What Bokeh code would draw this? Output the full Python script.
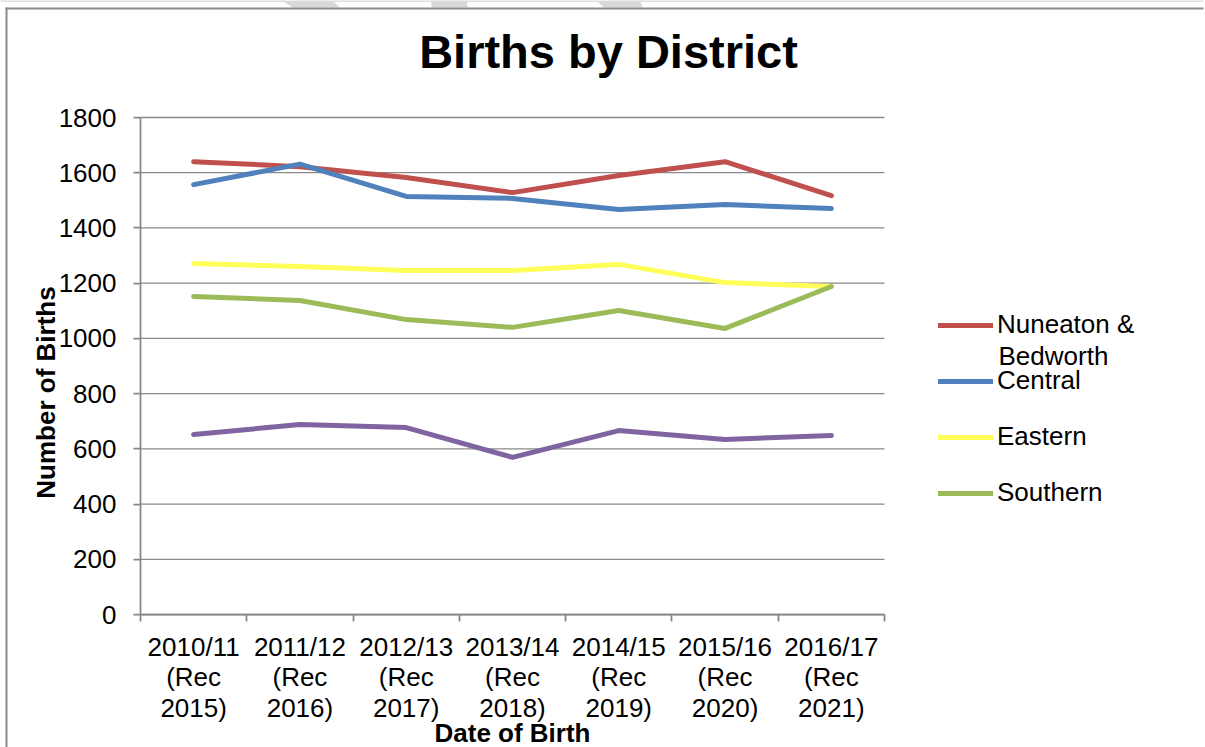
from math import pi

from bokeh.plotting import figure
from bokeh.models import Range1d, FixedTicker, Legend, LegendItem, Label
from bokeh.embed import file_html
from bokeh.resources import INLINE

# ---- data -------------------------------------------------------------
periods = ["2010/11", "2011/12", "2012/13", "2013/14", "2014/15", "2015/16", "2016/17"]
recorded = ["2015", "2016", "2017", "2018", "2019", "2020", "2021"]

nuneaton_bedworth = [1640, 1622, 1583, 1528, 1590, 1640, 1517]
central = [1557, 1631, 1514, 1507, 1467, 1485, 1470]
eastern = [1271, 1260, 1246, 1246, 1268, 1202, 1188]
southern = [1152, 1137, 1068, 1040, 1101, 1036, 1188]
northern = [652, 688, 677, 569, 666, 634, 648]

y_ticks = [0, 200, 400, 600, 800, 1000, 1200, 1400, 1600, 1800]

TITLE = "Births by District"
Y_TITLE = "Number of Births"
X_TITLE = "Date of Birth"

# ---- page geometry ----------------------------------------------------
# The plotting frame fills the whole canvas; the chart's plot area
# (between the axes) sits inside it at these pixel edges.
W, H = 1205, 747
AREA_L, AREA_R, AREA_T, AREA_B = 140, 884, 117, 614
FONT = "Liberation Sans"
AXIS_GREY = "#868686"
GRID_GREY = "#8a8a8a"

n = len(periods)
x_pos = [i + 0.5 for i in range(n)]
y_lo, y_hi = y_ticks[0], y_ticks[-1]

px_per_x = (AREA_R - AREA_L) / n
px_per_y = (AREA_B - AREA_T) / (y_hi - y_lo)


def dx(px):
    """page x pixel -> data x"""
    return (px - AREA_L) / px_per_x


def dy(py):
    """page y pixel -> data y"""
    return y_lo + (AREA_B - py) / px_per_y


p = figure(width=W, height=H, title=None,
           x_range=Range1d(dx(0), dx(W)), y_range=Range1d(dy(H), dy(0)),
           output_backend="svg", toolbar_location=None,
           min_border=0, min_border_left=0, min_border_right=0,
           min_border_top=0, min_border_bottom=0)
p.outline_line_color = None
p.background_fill_color = "white"
p.border_fill_color = "white"

# ---- page decoration: faint rule, watermark fragments, chart border ---
p.quad(left=[dx(0)], right=[dx(W - 2)], top=[dy(0)], bottom=[dy(1)],
       fill_color="#bcbcbc", line_color=None, level="underlay")
p.patches(xs=[[dx(283), dx(333), dx(339), dx(292)],
              [dx(431), dx(467), dx(467), dx(431)],
              [dx(597), dx(640), dx(642), dx(603)]],
          ys=[[dy(1), dy(1), dy(7), dy(7)]] * 3,
          fill_color="#d9d9d9", line_color=None, level="underlay")
p.quad(left=[dx(5), dx(5)], right=[dx(W - 2), dx(7)],
       top=[dy(7), dy(7)], bottom=[dy(9), dy(H)],
       fill_color="#8a8a8a", line_color=None, level="underlay")

# ---- axes, pinned to the plot-area edges ------------------------------
xa = p.xaxis[0]
xa.fixed_location = y_lo
xa.bounds = (0, n)
xa.ticker = FixedTicker(ticks=x_pos, minor_ticks=list(range(n + 1)))
xa.major_label_overrides = {x: f"{per}\n(Rec\n{rec})"
                            for x, per, rec in zip(x_pos, periods, recorded)}
xa.axis_line_color = AXIS_GREY
xa.axis_line_width = 1.75
xa.major_tick_line_color = None
xa.major_tick_out = 7
xa.major_tick_in = 0
xa.minor_tick_line_color = AXIS_GREY
xa.minor_tick_line_width = 1.75
xa.minor_tick_out = 7
xa.minor_tick_in = 0
xa.major_label_text_font = FONT
xa.major_label_text_font_size = "26px"
xa.major_label_text_color = "black"
xa.major_label_text_line_height = 1.02
xa.major_label_standoff = 10

ya = p.yaxis[0]
ya.fixed_location = 0
ya.bounds = (y_lo, y_hi)
ya.ticker = FixedTicker(ticks=y_ticks, minor_ticks=[])
ya.axis_line_color = AXIS_GREY
ya.axis_line_width = 1.75
ya.major_tick_line_color = AXIS_GREY
ya.major_tick_line_width = 1.75
ya.major_tick_out = 7
ya.major_tick_in = 0
ya.minor_tick_line_color = None
ya.major_label_text_font = FONT
ya.major_label_text_font_size = "26px"
ya.major_label_text_color = "black"
ya.major_label_standoff = 17

# horizontal gridlines only across the plot area
p.xgrid.visible = False
p.ygrid.visible = False
p.segment(x0=[0] * len(y_ticks), x1=[n] * len(y_ticks), y0=y_ticks, y1=y_ticks,
          line_color=GRID_GREY, line_width=1.3, level="underlay")

# ---- series -----------------------------------------------------------
style = dict(line_width=5, line_cap="round", line_join="round")
r_nb = p.line(x_pos, nuneaton_bedworth, line_color="#C0504D", **style)
r_ce = p.line(x_pos, central, line_color="#4F81BD", **style)
r_ea = p.line(x_pos, eastern, line_color="#FFFF5A", **style)
r_so = p.line(x_pos, southern, line_color="#9BBB59", **style)
r_no = p.line(x_pos, northern, line_color="#8064A2", **style)

legend = Legend(items=[
    LegendItem(label="Nuneaton &", renderers=[r_nb]),
    LegendItem(label="Central", renderers=[r_ce]),
    LegendItem(label="Eastern", renderers=[r_ea]),
    LegendItem(label="Southern", renderers=[r_so]),
], location=(938, H - 508.5), orientation="vertical",
    glyph_width=55, glyph_height=32, label_height=32, label_standoff=4,
    spacing=24, padding=0, margin=0, border_line_color=None,
    background_fill_alpha=0, label_text_font=FONT,
    label_text_font_size="26px", label_text_color="black")
p.add_layout(legend)

# ---- texts ------------------------------------------------------------
# (alphabetic-baseline labels render about 0.36 em below their anchor,
#  so anchors are raised by that amount)
def lift(size):
    return 0.36 * size


p.add_layout(Label(x=dx(998), y=dy(365 - lift(26)), text="Bedworth",
                   text_font=FONT, text_font_size="26px", text_color="black",
                   text_align="left", text_baseline="alphabetic"))

p.add_layout(Label(x=dx(608), y=dy(68 - lift(47)), text=TITLE, text_font=FONT,
                   text_font_size="47px", text_font_style="bold",
                   text_color="black", text_align="center",
                   text_baseline="alphabetic"))

p.add_layout(Label(x=dx(55 - lift(26)), y=dy(392), text=Y_TITLE, angle=pi / 2,
                   text_font=FONT, text_font_size="26px",
                   text_font_style="bold", text_color="black",
                   text_align="center", text_baseline="alphabetic"))

p.add_layout(Label(x=dx(512), y=dy(742 - lift(26)), text=X_TITLE, text_font=FONT,
                   text_font_size="26px", text_font_style="bold",
                   text_color="black", text_align="center",
                   text_baseline="alphabetic"))

open("out.html", "w").write(file_html(p, INLINE))
